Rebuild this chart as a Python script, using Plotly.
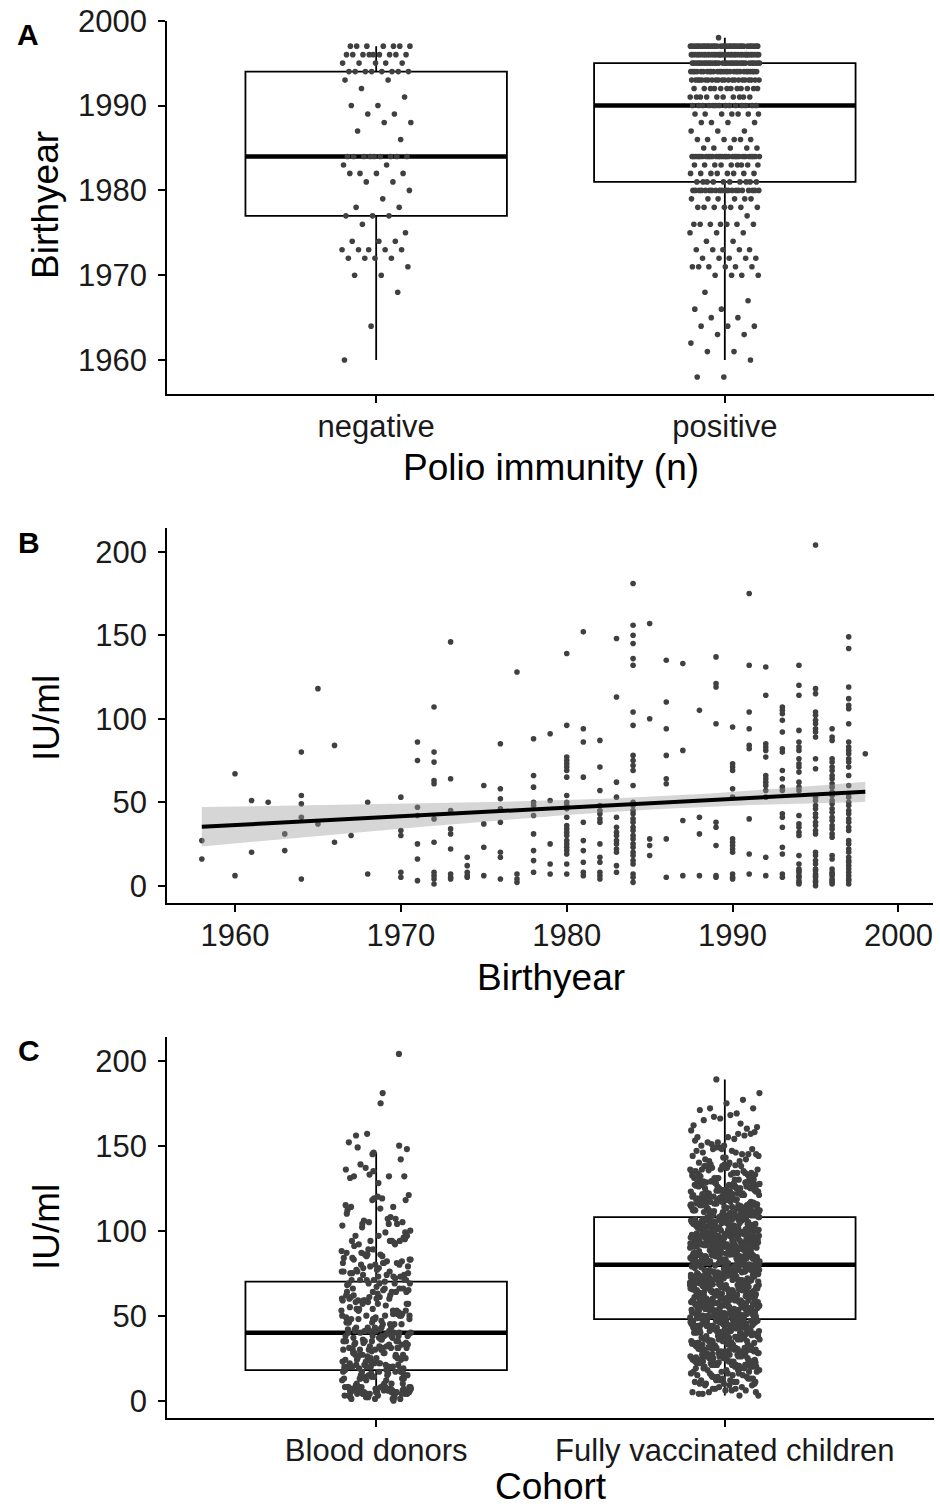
import numpy as np
import plotly.graph_objects as go

# ---------------- DATA ----------------
# Panel A: birthyears of blood donors by polio immunity (year values and counts per year)
neg_year_vals = [1997, 1996, 1995, 1994, 1993, 1992, 1991, 1990, 1989, 1988, 1987, 1986, 1984, 1983,
                 1982, 1981, 1980, 1979, 1978, 1977, 1976, 1975, 1974, 1973, 1972, 1971, 1970, 1968,
                 1964, 1960]
neg_counts = [7, 9, 5, 8, 2, 1, 1, 2, 2, 2, 1, 1, 9, 2, 4, 2, 1, 1, 2, 3, 1, 1, 3, 5, 4, 1, 2, 1, 1, 1]
pos_year_vals = [1998, 1997, 1996, 1995, 1994, 1993, 1992, 1991, 1990, 1989, 1988, 1987, 1986, 1985,
                 1984, 1983, 1982, 1981, 1980, 1979, 1978, 1977, 1976, 1975, 1974, 1973, 1972, 1971,
                 1970, 1968, 1967, 1966, 1965, 1964, 1963, 1962, 1961, 1960, 1958]
pos_counts = [1, 32, 36, 32, 28, 22, 12, 10, 14, 7, 4, 3, 6, 5, 28, 9, 8, 10, 20, 6, 7, 1, 7, 3, 2,
              5, 5, 6, 4, 1, 1, 2, 2, 3, 2, 1, 2, 1, 2]
a_labels = ["negative", "positive"]
a_q1 = [1977, 1981]
a_median = [1984, 1990]
a_q3 = [1994, 1995]
a_lower = [1960, 1960]
a_upper = [1997, 1998]

# Panel B: IU/ml by birthyear (years, number of donors in that year, values in order)
b_year_vals = [1958, 1960, 1961, 1962, 1963, 1964, 1965, 1966, 1967, 1968, 1970, 1971, 1972, 1973,
               1974, 1975, 1976, 1977, 1978, 1979, 1980, 1981, 1982, 1983, 1984, 1985, 1986, 1987,
               1988, 1989, 1990, 1991, 1992, 1993, 1994, 1995, 1996, 1997, 1998]
b_group_sizes = [2, 2, 2, 1, 2, 5, 2, 2, 1, 2, 5, 7, 11, 9, 5, 4, 8, 4, 10, 5, 24, 10, 14, 14, 32,
                 5, 8, 4, 4, 9, 14, 9, 14, 18, 29, 34, 33, 40, 1]
b_iu = [
    27, 16,
    67, 6,
    51, 20,
    50,
    31, 21,
    80, 54, 49, 41, 4,
    118, 37,
    84, 26,
    30,
    50, 7,
    53, 33, 30, 8, 5,
    86, 75, 47, 42, 25, 16, 3,
    107, 80, 74, 63, 61, 40, 26, 8, 6, 4, 1,
    146, 64, 45, 34, 31, 22, 7, 5, 4,
    17, 12, 8, 6, 5,
    60, 37, 23, 6,
    85, 58, 52, 46, 38, 20, 17, 4,
    128, 7, 4, 2,
    88, 66, 59, 50, 48, 42, 31, 21, 15, 8,
    91, 51, 25, 13, 7,
    139, 96, 77, 75, 73, 71, 69, 65, 54, 50, 48, 46, 41, 36, 34, 32, 30, 27, 25, 23, 21, 19, 13, 7,
    152, 94, 86, 65, 38, 27, 21, 14, 8, 6,
    87, 71, 57, 48, 45, 43, 40, 38, 25, 17, 14, 8, 6, 4,
    148, 113, 62, 53, 41, 35, 32, 30, 27, 25, 22, 20, 12, 8,
    181, 156, 150, 145, 136, 132, 104, 96, 78, 75, 72, 69, 60, 50, 48, 45, 43, 40, 38, 35, 33, 30,
    28, 25, 23, 20, 18, 15, 13, 7, 5, 2,
    157, 100, 28, 24, 18,
    135, 110, 94, 78, 64, 61, 28, 5,
    133, 81, 39, 6,
    105, 41, 31, 6,
    137, 121, 119, 97, 38, 35, 24, 6, 5,
    95, 73, 71, 69, 58, 53, 28, 26, 24, 22, 20, 7, 5, 4,
    175, 132, 104, 94, 84, 82, 40, 19, 7,
    131, 114, 85, 83, 81, 77, 66, 64, 62, 60, 57, 53, 17, 6,
    107, 105, 103, 99, 92, 82, 80, 69, 64, 59, 57, 43, 41, 35, 23, 19, 7, 5,
    132, 120, 114, 93, 86, 83, 81, 76, 73, 71, 68, 62, 59, 57, 42, 37, 35, 32, 30, 18, 13, 10, 6,
    3, 1, 2, 5, 8, 9,
    204, 118, 115, 104, 102, 99, 97, 94, 92, 89, 76, 70, 53, 51, 48, 46, 43, 41, 38, 36, 33, 31,
    20, 18, 15, 13, 7, 5, 2, 0, 3, 6, 9, 10,
    94, 89, 87, 76, 74, 71, 69, 66, 64, 61, 59, 56, 54, 51, 49, 46, 44, 41, 39, 36, 34, 31, 29,
    18, 16, 8, 6, 3, 1, 2, 4, 7, 10,
    149, 142, 119, 112, 108, 106, 97, 86, 83, 81, 79, 76, 74, 71, 66, 60, 55, 53, 50, 48, 45, 43,
    40, 38, 35, 33, 27, 25, 22, 20, 17, 15, 12, 8, 6, 4, 1, 3, 10, 14,
    79,
]

# Panel C: IU/ml per cohort (blood donors reuse b_iu)
c_labels = ["Blood donors", "Fully vaccinated children"]
c_q1 = [18, 48]
c_median = [40, 80]
c_q3 = [70, 108]
c_lower = [0, 3]
c_upper = [146, 189]
child_iu = [
    3, 7, 5, 9, 4, 6, 8, 5, 7, 5, 9, 6, 4, 8, 7, 3, 6, 9,
    13, 17, 11, 18, 15, 10, 16, 12, 19, 14, 16, 11, 18, 13, 10, 15, 19, 14, 17, 12,
    19, 14, 12, 17, 11, 16, 13, 18, 10, 15, 12, 18, 15, 10, 17, 13, 19, 16, 14, 11,
    23, 27, 21, 28, 25, 20, 26, 22, 29, 24, 26, 21, 28, 23, 20, 25, 29, 24, 27, 22,
    29, 24, 22, 27, 21, 26, 23, 28, 20, 25, 22, 28, 25, 20, 27, 23, 29, 26, 24, 21,
    25, 20, 27, 24, 29, 22, 28, 21, 26, 23, 28, 23, 26, 21, 24,
    33, 37, 31, 38, 35, 30, 36, 32, 39, 34, 36, 31, 38, 33, 30, 35, 39, 34, 37, 32,
    39, 34, 32, 37, 31, 36, 33, 38, 30, 35, 32, 38, 35, 30, 37, 33, 39, 36, 34, 31,
    35, 30, 37, 34, 39, 32, 38, 31, 36, 33, 38, 33, 36, 31, 34, 39, 30, 37,
    41, 46, 49, 45, 42, 48, 44, 40, 43, 47, 44, 49, 40, 46, 43, 47, 41, 45, 48, 42,
    43, 47, 41, 48, 45, 40, 46, 42, 49, 44, 46, 41, 48, 43, 40, 45, 49, 44, 47, 42,
    49, 44, 42, 47, 41, 46, 43, 48, 40, 45, 42, 48, 45, 40, 47, 43, 49, 46, 44, 41,
    45, 40, 47, 44, 49,
    55, 50, 57, 54, 59, 52, 58, 51, 56, 53, 58, 53, 56, 51, 54, 59, 50, 57, 52, 55,
    51, 56, 59, 55, 52, 58, 54, 50, 53, 57, 54, 59, 50, 56, 53, 57, 51, 55, 58, 52,
    53, 57, 51, 58, 55, 50, 56, 52, 59, 54, 56, 51, 58, 53, 50, 55, 59, 54, 57, 52,
    59, 54, 52, 57, 51, 56, 53, 58, 50, 55,
    63, 67, 61, 68, 65, 60, 66, 62, 69, 64, 66, 61, 68, 63, 60, 65, 69, 64, 67, 62,
    69, 64, 62, 67, 61, 66, 63, 68, 60, 65, 62, 68, 65, 60, 67, 63, 69, 66, 64, 61,
    65, 60, 67, 64, 69, 62, 68, 61, 66, 63, 68, 63, 66, 61, 64, 69, 60, 67, 62, 65,
    61, 66, 69, 65, 62, 68, 64, 60, 63, 67, 64, 69, 60, 66, 63,
    72, 78, 75, 70, 77, 73, 79, 76, 74, 71, 75, 70, 77, 74, 79, 72, 78, 71, 76, 73,
    78, 73, 76, 71, 74, 79, 70, 77, 72, 75, 71, 76, 79, 75, 72, 78, 74, 70, 73, 77,
    74, 79, 70, 76, 73, 77, 71, 75, 78, 72, 73, 77, 71, 78, 75, 70, 76, 72, 79, 74,
    76, 71, 78, 73, 70, 75, 79, 74, 77, 72,
    83, 87, 81, 88, 85, 80, 86, 82, 89, 84, 86, 81, 88, 83, 80, 85, 89, 84, 87, 82,
    89, 84, 82, 87, 81, 86, 83, 88, 80, 85, 82, 88, 85, 80, 87, 83, 89, 86, 84, 81,
    85, 80, 87, 84, 89, 82, 88, 81, 86, 83, 88, 83, 86, 81, 84, 89, 80, 87, 82, 85,
    81, 86, 89, 85, 82, 88, 84, 80, 83, 87, 84, 89, 80, 86, 83, 87, 81, 85, 88, 82,
    92, 98, 95, 90, 97, 93, 99, 96, 94, 91, 95, 90, 97, 94, 99, 92, 98, 91, 96, 93,
    98, 93, 96, 91, 94, 99, 90, 97, 92, 95, 91, 96, 99, 95, 92, 98, 94, 90, 93, 97,
    94, 99, 90, 96, 93, 97, 91, 95, 98, 92, 93, 97, 91, 98, 95, 90, 96, 92, 99, 94,
    96, 91, 98, 93, 90, 95, 99, 94, 97, 92, 97, 92, 95, 90, 98, 94, 91, 96, 93, 99,
    95, 92,
    103, 107, 101, 108, 105, 100, 106, 102, 109, 104, 106, 101, 108, 103, 100, 105, 109, 104, 107, 102,
    109, 104, 102, 107, 101, 106, 103, 108, 100, 105, 102, 108, 105, 100, 107, 103, 109, 106, 104, 101,
    105, 100, 107, 104, 109, 102, 108, 101, 106, 103, 108, 103, 106, 101, 104, 109, 100, 107, 102, 105,
    101, 106, 109, 105, 102, 108, 104, 100, 103, 107, 104, 100, 106, 102, 105, 101, 107, 103,
    112, 118, 115, 110, 117, 113, 119, 116, 114, 111, 115, 110, 117, 114, 119, 112, 118, 111, 116, 113,
    118, 113, 116, 111, 114, 119, 110, 117, 112, 115, 111, 116, 119, 115, 112, 118, 114, 110, 113, 117,
    114, 119, 110, 116, 113, 117, 111, 115, 118, 112, 113, 117, 111, 118, 115, 110, 116, 112, 119, 114,
    116, 111, 118, 113, 110,
    123, 127, 121, 128, 125, 120, 126, 122, 129, 124, 126, 121, 128, 123, 120, 125, 129, 124, 127, 122,
    129, 124, 122, 127, 121, 126, 123, 128, 120, 125, 122, 128, 125, 120, 127, 123, 129, 126, 124, 121,
    125, 120, 127, 124, 129, 122, 128, 121, 126, 123,
    132, 138, 135, 130, 137, 133, 139, 136, 134, 131, 135, 130, 137, 134, 139, 132, 138, 131, 136, 133,
    138, 133, 136, 131, 134, 139, 130, 137, 132, 135, 131, 136, 134, 138, 133,
    143, 147, 141, 148, 145, 140, 146, 142, 149, 144, 146, 141, 148, 143, 140, 145, 149, 144, 147, 142,
    145, 148,
    153, 157, 151, 158, 155, 150, 156, 152, 159, 154, 152, 157, 150, 155,
    163, 167, 161, 168, 165, 160, 166, 162, 169,
    172, 172, 175, 171, 177,
    189, 181,
    21.5, 26.5, 23.5, 28.5, 25.5, 20.5, 27.5, 22.5, 29.5, 24.5, 26.5, 22.5,
    33.5, 37.5, 31.5, 38.5, 35.5, 30.5, 36.5, 32.5, 39.5, 34.5, 36.5, 31.5, 38.5, 33.5, 30.5, 35.5,
    39.5, 34.5,
    44.5, 49.5, 40.5, 46.5, 43.5, 47.5, 41.5, 45.5, 48.5, 42.5, 43.5, 47.5, 41.5, 48.5, 45.5, 40.5,
    46.5, 42.5, 49.5, 44.5, 46.5, 41.5,
    57.5, 52.5, 55.5, 50.5, 58.5, 54.5, 51.5, 56.5, 53.5, 59.5, 52.5, 58.5, 55.5, 50.5, 57.5, 53.5,
    59.5, 56.5, 54.5, 51.5, 55.5, 50.5, 57.5, 54.5, 59.5,
    61.5, 66.5, 69.5, 65.5, 62.5, 68.5, 64.5, 60.5, 63.5, 67.5, 64.5, 69.5, 60.5, 66.5, 63.5, 67.5,
    61.5, 65.5, 68.5, 62.5, 63.5, 67.5, 61.5, 68.5, 65.5,
    76.5, 71.5, 78.5, 73.5, 70.5, 75.5, 79.5, 74.5, 77.5, 72.5, 79.5, 74.5, 72.5, 77.5, 71.5, 76.5,
    73.5, 78.5, 70.5, 75.5, 72.5, 78.5, 75.5, 70.5, 77.5,
    85.5, 80.5, 87.5, 84.5, 89.5, 82.5, 88.5, 81.5, 86.5, 83.5, 88.5, 83.5, 86.5, 81.5, 84.5, 89.5,
    80.5, 87.5, 82.5, 85.5, 81.5, 86.5, 89.5, 85.5, 82.5, 88.5, 84.5, 80.5,
    93.5, 97.5, 91.5, 98.5, 95.5, 90.5, 96.5, 92.5, 99.5, 94.5, 96.5, 91.5, 98.5, 93.5, 90.5, 95.5,
    99.5, 94.5, 97.5, 92.5, 99.5, 94.5, 92.5, 97.5, 91.5, 96.5, 93.5, 98.5,
    104.5, 109.5, 100.5, 106.5, 103.5, 107.5, 101.5, 105.5, 108.5, 102.5, 103.5, 107.5, 101.5, 108.5,
    105.5, 100.5, 106.5, 102.5, 109.5, 104.5, 106.5, 101.5, 108.5, 103.5, 100.5, 105.5,
    112.5, 118.5, 115.5, 110.5, 117.5, 113.5, 119.5, 116.5, 114.5, 111.5, 115.5, 110.5, 117.5, 114.5,
    119.5, 112.5, 118.5, 111.5, 116.5, 113.5, 118.5, 113.5,
    123.5, 127.5, 121.5, 128.5, 125.5, 120.5, 126.5, 122.5, 129.5, 124.5, 126.5, 121.5, 128.5, 123.5,
    132.5, 138.5, 135.5, 130.5, 137.5, 133.5,
]

# ---------------- HELPERS ----------------
W, H = 940, 1507
PT = "#404040"
FONT = "Liberation Sans, Arial, sans-serif"
TICK_SIZE = 31
TITLE_SIZE = 37


def fx(p):
    return p / W


def fy(p):
    return 1 - p / H


def expand(vals, counts):
    out = []
    for v, c in zip(vals, counts):
        out.extend([v] * c)
    return out


def jitter(n, width, start):
    phi = 0.6180339887498949
    return np.array([((start + i * phi) % 1.0 - 0.5) * 2 * width for i in range(n)])


fig = go.Figure()


def add_boxes(cats, q1, med, q3, lo, hi, xa, ya):
    fig.add_trace(go.Box(
        x=cats, q1=q1, median=med, q3=q3, lowerfence=lo, upperfence=hi,
        width=0.75, whiskerwidth=0, fillcolor="white",
        line=dict(color="black", width=1.8), boxpoints=False,
        xaxis=xa, yaxis=ya, showlegend=False, hoverinfo="skip"))
    for c, m in zip(cats, med):
        fig.add_trace(go.Scatter(
            x=[c - 0.375, c + 0.375], y=[m, m], mode="lines",
            line=dict(color="black", width=4.5), xaxis=xa, yaxis=ya,
            showlegend=False, hoverinfo="skip"))


def add_points(x, y, xa, ya, size=5.6):
    fig.add_trace(go.Scatter(
        x=x, y=y, mode="markers", marker=dict(color=PT, size=size, line=dict(width=0)),
        xaxis=xa, yaxis=ya, showlegend=False, hoverinfo="skip"))


# ---------------- PANEL A ----------------
neg_years = expand(neg_year_vals, neg_counts)
pos_years = expand(pos_year_vals, pos_counts)
add_boxes([1, 2], a_q1, a_median, a_q3, a_lower, a_upper, "x", "y")
add_points(1 + jitter(len(neg_years), 0.1, 0.13), neg_years, "x", "y")
add_points(2 + jitter(len(pos_years), 0.1, 0.41), pos_years, "x", "y")

# ---------------- PANEL B ----------------
b_years = np.array(expand(b_year_vals, b_group_sizes), dtype=float)
b_vals = np.array(b_iu, dtype=float)
add_points(b_years, b_vals, "x2", "y2")
n = len(b_years)
slope, intercept = np.polyfit(b_years, b_vals, 1)
resid = b_vals - (slope * b_years + intercept)
s = np.sqrt(np.sum(resid ** 2) / (n - 2))
xbar = b_years.mean()
sxx = np.sum((b_years - xbar) ** 2)
xs = np.linspace(b_years.min(), b_years.max(), 80)
fit = slope * xs + intercept
se = s * np.sqrt(1.0 / n + (xs - xbar) ** 2 / sxx)
tcrit = 1.966
upper = fit + tcrit * se
lower = fit - tcrit * se
fig.add_trace(go.Scatter(
    x=np.concatenate([xs, xs[::-1]]), y=np.concatenate([upper, lower[::-1]]),
    fill="toself", fillcolor="rgba(153,153,153,0.4)", line=dict(width=0),
    mode="lines", xaxis="x2", yaxis="y2", showlegend=False, hoverinfo="skip"))
fig.add_trace(go.Scatter(
    x=xs, y=fit, mode="lines", line=dict(color="black", width=4),
    xaxis="x2", yaxis="y2", showlegend=False, hoverinfo="skip"))

# ---------------- PANEL C ----------------
add_boxes([1, 2], c_q1, c_median, c_q3, c_lower, c_upper, "x3", "y3")
add_points(1 + jitter(len(b_iu), 0.1, 0.27), b_iu, "x3", "y3", size=6.2)
add_points(2 + jitter(len(child_iu), 0.1, 0.71), child_iu, "x3", "y3", size=6.2)

# ---------------- AXES ----------------
common = dict(showline=True, linecolor="black", linewidth=1.8, showgrid=False, zeroline=False,
              ticks="outside", ticklen=7, tickwidth=1.8, tickcolor="black", automargin=False,
              tickfont=dict(family=FONT, size=TICK_SIZE, color="#1a1a1a"), mirror=False)
xcommon = dict(ticklabelstandoff=-3, **common)
ycommon = dict(ticklabelstandoff=5, **common)

fig.update_layout(
    template="none",
    width=W, height=H, autosize=False, margin=dict(l=0, r=0, t=0, b=0, pad=0),
    paper_bgcolor="white", plot_bgcolor="white", showlegend=False,
    xaxis=dict(domain=[fx(167), fx(934)], range=[0.4, 2.6], tickvals=[1, 2], ticktext=a_labels,
               anchor="y", **xcommon),
    yaxis=dict(domain=[fy(394), fy(20.7)], range=[1956, 2000], tickvals=[1960, 1970, 1980, 1990, 2000],
               anchor="x", **ycommon),
    xaxis2=dict(domain=[fx(167), fx(933.3)], range=[1955.9, 2002.1], tickvals=[1960, 1970, 1980, 1990, 2000],
                anchor="y2", **xcommon),
    yaxis2=dict(domain=[fy(902.7), fy(528.0)], range=[-10.2, 214.2], tickvals=[0, 50, 100, 150, 200],
                anchor="x2", **ycommon),
    xaxis3=dict(domain=[fx(167), fx(934)], range=[0.4, 2.6], tickvals=[1, 2], ticktext=c_labels,
                anchor="y3", **xcommon),
    yaxis3=dict(domain=[fy(1418.0), fy(1036.6)], range=[-10.2, 214.2], tickvals=[0, 50, 100, 150, 200],
                anchor="x3", **ycommon),
)

annots = [
    ("A", 28, 34, 0, True, 30),
    ("B", 29.5, 542, 0, True, 30),
    ("C", 29, 1050, 0, True, 30),
    ("Birthyear", 46, 205, -90, False, TITLE_SIZE),
    ("IU/ml", 46, 718, -90, False, TITLE_SIZE),
    ("IU/ml", 46, 1227, -90, False, TITLE_SIZE),
    ("Polio immunity (n)", 551, 468, 0, False, TITLE_SIZE),
    ("Birthyear", 551, 977, 0, False, TITLE_SIZE),
    ("Cohort", 551, 1486, 0, False, TITLE_SIZE),
]
for text, x, y, ang, bold, size in annots:
    fig.add_annotation(
        text=f"<b>{text}</b>" if bold else text, x=fx(x), y=fy(y), xref="paper", yref="paper",
        xanchor="center", yanchor="middle", textangle=ang, showarrow=False,
        font=dict(family=FONT, size=size, color="black"))

fig.write_html("out.html", config={"displayModeBar": False},
               post_script="document.body.style.margin='0px';document.body.style.overflow='hidden';")
